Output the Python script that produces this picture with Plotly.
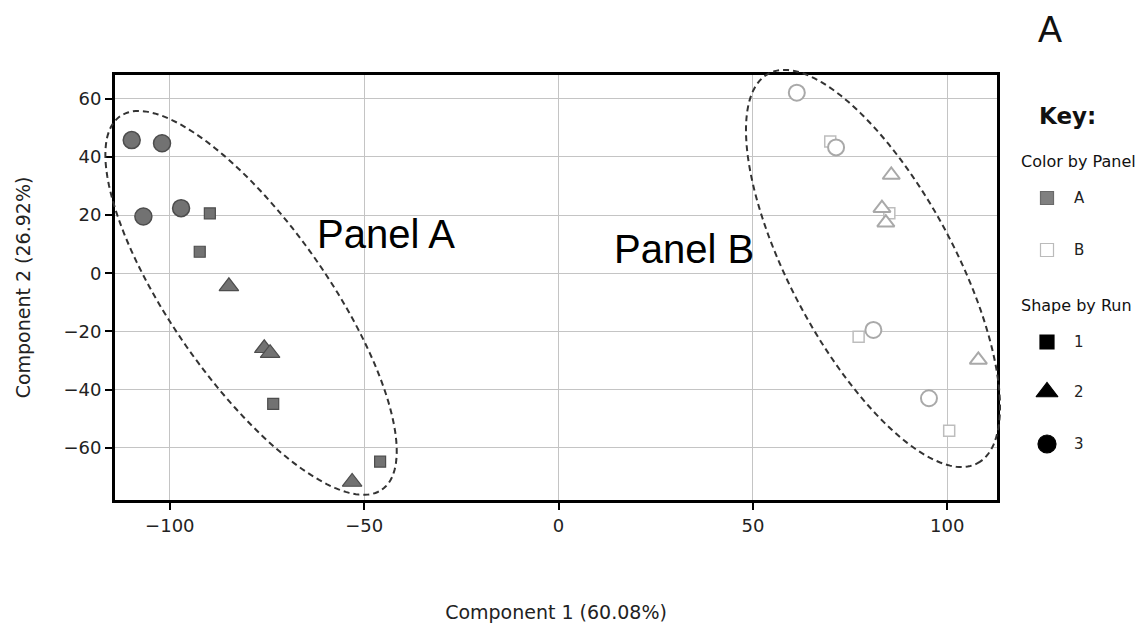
import numpy as np
import plotly.graph_objects as go

# ---------------- data ----------------
panelA_run1_x = [-89.7, -92.3, -73.4, -45.9]
panelA_run1_y = [20.6, 7.4, -44.9, -64.8]
panelA_run2_x = [-84.8, -75.7, -74.2, -53.1]
panelA_run2_y = [-4.5, -25.8, -27.5, -71.8]
panelA_run3_x = [-109.8, -102.0, -106.8, -97.1]
panelA_run3_y = [45.8, 44.7, 19.5, 22.4]

panelB_run1_x = [69.9, 85.1, 77.2, 100.5]
panelB_run1_y = [45.3, 20.6, -21.8, -54.2]
panelB_run2_x = [85.6, 83.2, 84.2, 108.0]
panelB_run2_y = [33.8, 22.4, 17.4, -29.8]
panelB_run3_x = [61.3, 71.4, 81.0, 95.3]
panelB_run3_y = [62.1, 43.3, -19.5, -43.0]

x_ticks = [-100, -50, 0, 50, 100]
y_ticks = [-60, -40, -20, 0, 20, 40, 60]

# ellipse params: center, major axis vector, minor axis vector (data units)
ellA_center = (-79.1, -10.2)
ellA_major = (33.7, -64.2)
ellA_minor = (16.4, 15.4)
ellB_center = (80.9, 1.65)
ellB_major = (26.9, -67.0)
ellB_minor = (18.55, 13.3)

# ---------------- layout constants ----------------
W, H = 1145, 625
ML, MR, MT, MB = 115, 10, 75, 125
PW = W - ML - MR
PH = H - MT - MB
X_RANGE = [-114.1, 112.8]
Y_RANGE = [-78.0, 68.2]
X_DOM = [0, (997 - ML) / PW]

def px2paper(px, py):
    return (px - ML) / PW, (H - MB - py) / PH

def data2paper(x, y):
    fx = (np.asarray(x) - X_RANGE[0]) / (X_RANGE[1] - X_RANGE[0])
    fy = (np.asarray(y) - Y_RANGE[0]) / (Y_RANGE[1] - Y_RANGE[0])
    return X_DOM[0] + fx * (X_DOM[1] - X_DOM[0]), fy

def ellipse_path(c, M, m, n=200):
    t = np.linspace(0, 2 * np.pi, n)
    xs = c[0] + np.cos(t) * M[0] + np.sin(t) * m[0]
    ys = c[1] + np.cos(t) * M[1] + np.sin(t) * m[1]
    px, py = data2paper(xs, ys)
    return "M " + " L ".join(f"{a:.5f},{b:.5f}" for a, b in zip(px, py)) + " Z"

A_FILL = "#727272"
A_LINE = "#4d4d4d"
B_LINE = "#a9a9a9"

fig = go.Figure()

def add(x, y, symbol, size, fill, line, lw):
    fig.add_trace(go.Scatter(
        x=x, y=y, mode="markers", showlegend=False, cliponaxis=False,
        marker=dict(symbol=symbol, size=size, color=fill,
                    line=dict(color=line, width=lw)),
        xaxis="x", yaxis="y"))

add(panelA_run1_x, panelA_run1_y, "square", 11, A_FILL, A_LINE, 1.2)
add(panelA_run2_x, panelA_run2_y, "triangle-up", 17, A_FILL, A_LINE, 1.2)
add(panelA_run3_x, panelA_run3_y, "circle", 17, A_FILL, A_LINE, 1.5)
add(panelB_run1_x, panelB_run1_y, "square", 11, "white", "#bdbdbd", 1.5)
add(panelB_run2_x, panelB_run2_y, "triangle-up", 15, "white", B_LINE, 2)
add(panelB_run3_x, panelB_run3_y, "circle", 16, "white", B_LINE, 2)

# ---------------- key (legend) ----------------
key_labels = ["A", "B", "1", "2", "3"]
key_symbols = ["square", "square", "square", "triangle-up", "circle"]
key_sizes = [13, 13, 14, 19, 18]
key_fill = ["#808080", "white", "black", "black", "black"]
key_line = ["#6a6a6a", "#bbbbbb", "black", "black", "black"]
key_py = [198, 250, 342, 392, 444]
KEY_PX = 1047
for lab, sym, sz, fc, lc, py in zip(key_labels, key_symbols, key_sizes, key_fill, key_line, key_py):
    fig.add_trace(go.Scatter(
        x=[KEY_PX], y=[py], mode="markers", showlegend=False, cliponaxis=False,
        marker=dict(symbol=sym, size=sz, color=fc, line=dict(color=lc, width=1.2)),
        xaxis="x2", yaxis="y2"))

ann = []
for lab, py in zip(key_labels, key_py):
    ax, ay = px2paper(1079, py)
    ann.append(dict(x=ax, y=ay, xref="paper", yref="paper", text=lab, showarrow=False,
                    xanchor="center", yanchor="middle",
                    font=dict(family="DejaVu Sans", size=15, color="#222")))

for txt, px, py, sz, fam, anchor, bold in [
    ("A", 1049.5, 30, 36, "Liberation Sans", "center", False),
    ("Key:", 1037, 116, 23, "DejaVu Sans", "left", True),
    ("Color by Panel", 1019, 161, 16, "DejaVu Sans", "left", False),
    ("Shape by Run", 1019, 305, 16, "DejaVu Sans", "left", False),
]:
    ax, ay = px2paper(px, py)
    ann.append(dict(x=ax, y=ay, xref="paper", yref="paper",
                    text=f"<b>{txt}</b>" if bold else txt, showarrow=False,
                    xanchor=anchor, yanchor="middle",
                    font=dict(family=fam, size=sz, color="#111")))

# panel labels in data coords
for txt, x, y in [("Panel A", -44.4, 13.5), ("Panel B", 32.2, 8.4)]:
    ann.append(dict(x=x, y=y, xref="x", yref="y", text=txt, showarrow=False,
                    xanchor="center", yanchor="middle",
                    font=dict(family="Liberation Sans", size=40, color="black")))

shapes = []
for c, M, m in [(ellA_center, ellA_major, ellA_minor), (ellB_center, ellB_major, ellB_minor)]:
    shapes.append(dict(type="path", xref="paper", yref="paper", path=ellipse_path(c, M, m),
                       line=dict(color="#333", width=2, dash="6px,4px"), layer="above"))

kx0, _ = px2paper(1012, 0)
fig.update_layout(
    width=W, height=H,
    margin=dict(l=ML, r=MR, t=MT, b=MB, autoexpand=False),
    paper_bgcolor="white", plot_bgcolor="white",
    font=dict(family="DejaVu Sans", color="#222"),
    xaxis=dict(domain=X_DOM, range=X_RANGE, tickvals=x_ticks, automargin=False,
               showgrid=True, gridcolor="#c4c4c4", gridwidth=1, zeroline=False,
               showline=True, linecolor="black", linewidth=3, mirror=True,
               ticks="outside", ticklen=7, tickwidth=2, tickcolor="black",
               tickfont=dict(size=18, color="#222"),
               title=dict(text="Component 1 (60.08%)", font=dict(size=19, color="#222"), standoff=72)),
    yaxis=dict(domain=[0, 1], range=Y_RANGE, tickvals=y_ticks, automargin=False,
               showgrid=True, gridcolor="#c4c4c4", gridwidth=1, zeroline=False,
               showline=True, linecolor="black", linewidth=3, mirror=True,
               ticks="outside", ticklen=7, tickwidth=2, tickcolor="black",
               tickfont=dict(size=18, color="#222"),
               title=dict(text="Component 2 (26.92%)", font=dict(size=19, color="#222"), standoff=28)),
    xaxis2=dict(domain=[kx0, 1], range=[1012, W - MR], visible=False, fixedrange=True),
    yaxis2=dict(domain=[0, 1], range=[H - MB, MT], visible=False, fixedrange=True),
    annotations=ann, shapes=shapes,
)

fig.write_html("out.html")
